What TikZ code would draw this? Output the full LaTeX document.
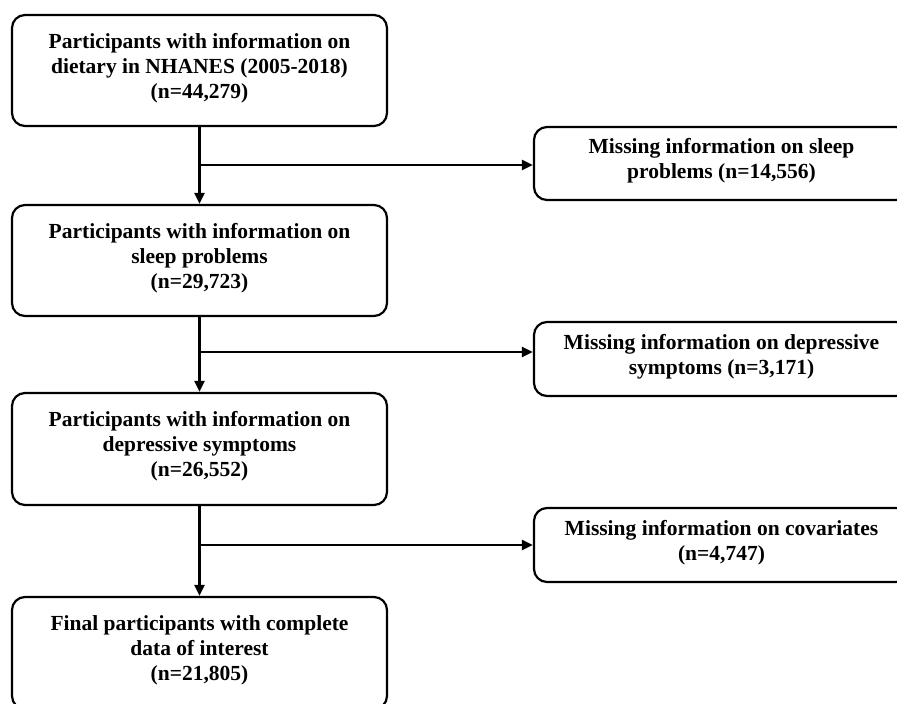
\documentclass[tikz,border=0pt]{standalone}
\usepackage{fontspec}
\setmainfont{Liberation Serif}
\usetikzlibrary{arrows.meta}
\begin{document}
\begin{tikzpicture}[x=1pt,y=-1pt,
  box/.style={draw, line width=2.2pt, rounded corners=13pt, minimum width=375pt,
    align=center, font=\bfseries\fontsize{21.5}{25}\selectfont, inner sep=0pt},
  conn/.style={line width=2.2pt, -{Triangle[length=11pt,width=10pt]}}]
\useasboundingbox (0,0) rectangle (897,704);
\clip (0,0) rectangle (897,704);
\node[box, minimum height=111pt] (b1) at (199.5,70.5) {Participants with information on\\dietary in NHANES (2005-2018)\\(n=44,279)\\[-15pt]};
\node[box, minimum height=111pt] (b2) at (199.5,260.5) {Participants with information on\\sleep problems\\(n=29,723)\\[-15pt]};
\node[box, minimum height=112pt] (b3) at (199.5,449) {Participants with information on\\depressive symptoms\\(n=26,552)\\[-15pt]};
\node[box, minimum height=112pt] (b4) at (199.5,653) {Final participants with complete\\data of interest\\(n=21,805)\\[-15pt]};
\node[box, minimum height=73pt] (r1) at (721.5,163.5) {Missing information on sleep\\problems (n=14,556)\\[-15pt]};
\node[box, minimum height=74pt] (r2) at (721.5,359) {Missing information on depressive\\symptoms (n=3,171)\\[-15pt]};
\node[box, minimum height=74pt] (r3) at (721.5,545) {Missing information on covariates\\(n=4,747)\\[-15pt]};
\coordinate (s1) at (199.5,165);
\coordinate (s2) at (199.5,352);
\coordinate (s3) at (199.5,545);
\draw[conn] (b1.south) -- (b2.north);
\draw[conn] (b2.south) -- (b3.north);
\draw[conn] (b3.south) -- (b4.north);
\draw[conn] (s1) -- (s1 -| r1.west);
\draw[conn] (s2) -- (s2 -| r2.west);
\draw[conn] (s3) -- (s3 -| r3.west);
\end{tikzpicture}
\end{document}
